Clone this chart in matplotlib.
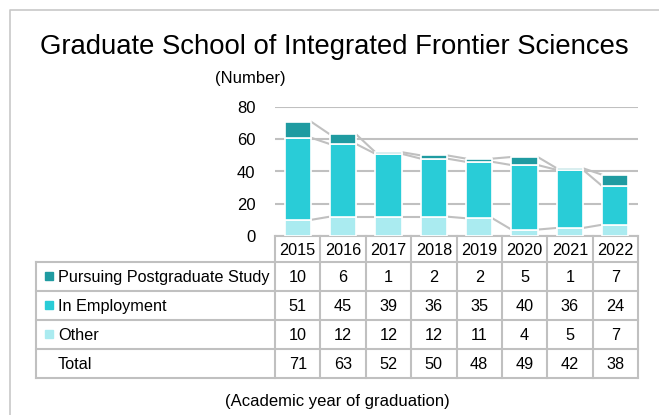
import matplotlib
matplotlib.use("Agg")
import matplotlib.pyplot as plt
from matplotlib.patches import Rectangle

years = ["2015", "2016", "2017", "2018", "2019", "2020", "2021", "2022"]
postgrad = [10, 6, 1, 2, 2, 5, 1, 7]
employment = [51, 45, 39, 36, 35, 40, 36, 24]
other = [10, 12, 12, 12, 11, 4, 5, 7]
totals = [71, 63, 52, 50, 48, 49, 42, 38]
series_names = ["Pursuing Postgraduate Study", "In Employment", "Other"]

c_post = "#1f9ba1"
c_emp = "#29ccd7"
c_other = "#aaebf0"
grid_c = "#c0c0c0"

plt.rcParams["font.family"] = ["Liberation Sans", "DejaVu Sans"]

W, H = 659, 415
fig = plt.figure(figsize=(W / 100, H / 100), dpi=100)

# pixel layout of chart/table
x0, x1 = 275, 638          # year columns
lab_x0 = 36                # table label column left
y_zero, y_top = 236, 107   # value 0 and 80
rows_y = [236, 262, 291, 320, 349, 378]
fs = 11.7

ax = fig.add_axes([x0 / W, 1 - y_zero / H, (x1 - x0) / W, (y_zero - y_top) / H])
n = len(years)
xs = list(range(n))
bw = 0.58
ax.bar(xs, other, bw, color=c_other, edgecolor="white", linewidth=1.2, zorder=3)
bot2 = [o for o in other]
ax.bar(xs, employment, bw, bottom=bot2, color=c_emp, edgecolor="white", linewidth=1.2, zorder=3)
bot3 = [o + e for o, e in zip(other, employment)]
ax.bar(xs, postgrad, bw, bottom=bot3, color=c_post, edgecolor="white", linewidth=1.2, zorder=3)

# series lines between bars
levels = [other, bot3, [b + p for b, p in zip(bot3, postgrad)]]
for lv in levels:
    for i in range(n - 1):
        ax.plot([i + bw / 2, i + 1 - bw / 2], [lv[i], lv[i + 1]], color=grid_c,
                linewidth=1.5, zorder=2, solid_capstyle="butt")

ax.set_xlim(-0.5, n - 0.5)
ax.set_ylim(0, 80)
ax.set_yticks([0, 20, 40, 60, 80])
ax.set_yticklabels(["0", "20", "40", "60", "80"], fontsize=12)
ax.tick_params(axis="y", length=0, pad=14)
ax.set_xticks([])
ax.yaxis.grid(True, color=grid_c, linewidth=1.5, zorder=0)
for s in ax.spines.values():
    s.set_visible(False)
ax.set_facecolor("none")

# overlay in pixel coordinates for frame, title and table
ov = fig.add_axes([0, 0, 1, 1], zorder=-1)
ov.set_xlim(0, W)
ov.set_ylim(H, 0)
ov.axis("off")
ov.plot([10, 10, W], [H, 10, 10], color="#c8c8c8", linewidth=1.2)

ov.text(334, 47, "Graduate School of Integrated Frontier Sciences", fontsize=19.8,
        ha="center", va="center")
ov.text(250, 79, "(Number)", fontsize=12, ha="center", va="center")
ov.text(337, 401, "(Academic year of graduation)", fontsize=12, ha="center", va="center")

tl = dict(color=grid_c, linewidth=1.5, solid_capstyle="projecting")
cw = (x1 - x0) / n
col_x = [x0 + cw * i for i in range(n + 1)]
# horizontal lines
ov.plot([x0, x1], [rows_y[0], rows_y[0]], **tl)
for y in rows_y[1:]:
    ov.plot([lab_x0, x1], [y, y], **tl)
# vertical lines
for cx in col_x:
    ov.plot([cx, cx], [rows_y[0], rows_y[-1]], **tl)
ov.plot([lab_x0, lab_x0], [rows_y[1], rows_y[-1]], **tl)

for i, yr in enumerate(years):
    ov.text(col_x[i] + cw / 2, (rows_y[0] + rows_y[1]) / 2 + 1, yr, fontsize=fs,
            ha="center", va="center")

table_rows = [postgrad, employment, other, totals]
labels = series_names + ["Total"]
colors = [c_post, c_emp, c_other, None]
for r, (vals, lab, col) in enumerate(zip(table_rows, labels, colors)):
    yc = (rows_y[r + 1] + rows_y[r + 2]) / 2 + 1
    if col:
        ov.add_patch(Rectangle((45, yc - 6), 8, 8, color=col))
    ov.text(58, yc, lab, fontsize=fs, ha="left", va="center")
    for i, v in enumerate(vals):
        ov.text(col_x[i] + cw / 2, yc, str(v), fontsize=fs, ha="center", va="center")

fig.savefig("out.png", dpi=100)
